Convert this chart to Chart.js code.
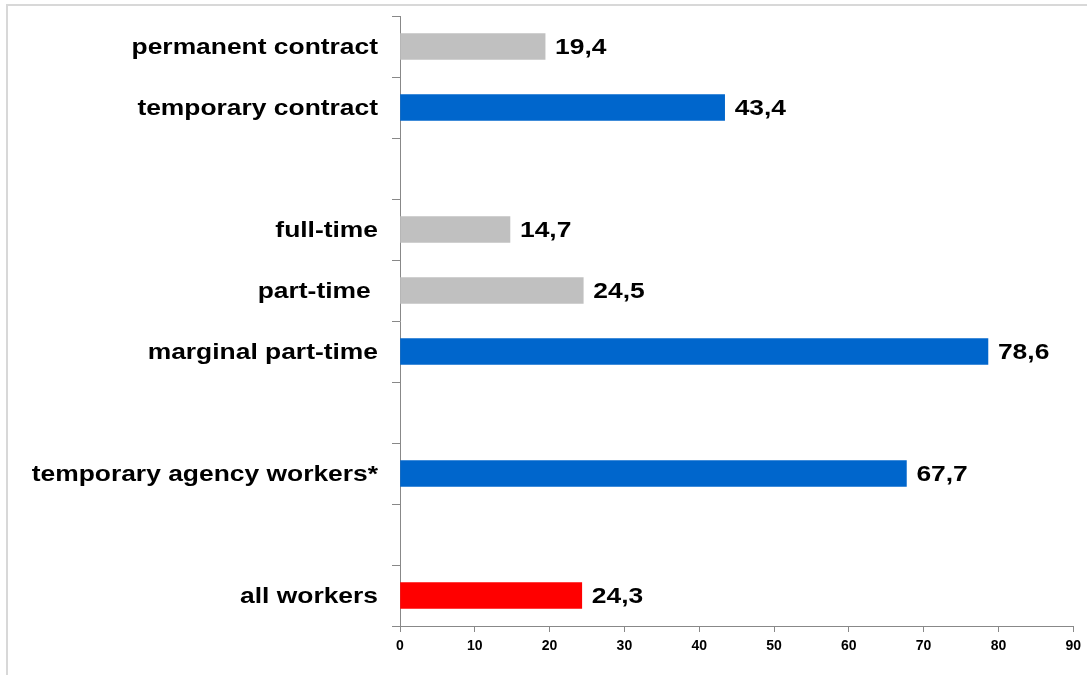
<!DOCTYPE html>
<html>
<head>
<meta charset="utf-8">
<script src="https://cdn.jsdelivr.net/npm/chart.js@4.4.1/dist/chart.umd.min.js"></script>
<style>
  html,body{margin:0;padding:0;background:#fff;}
  #wrap{position:relative;width:1087px;height:675px;}
  #frame{position:absolute;left:6px;top:4px;right:0;bottom:0;border-top:2px solid #d8d8d8;border-left:2px solid #d8d8d8;pointer-events:none;}
  canvas{position:absolute;left:0;top:0;}
</style>
</head>
<body>
<div id="wrap">
  <canvas id="c" width="1087" height="675"></canvas>
  <div id="frame"></div>
</div>
<script>
const categories = ["permanent contract", "temporary contract", "", "full-time", "part-time ", "marginal part-time", "", "temporary agency workers*", "", "all workers"];
const values = [19.4, 43.4, null, 14.7, 24.5, 78.6, null, 67.7, null, 24.3];
const barColors = ["#C0C0C0", "#0066CC", "#FFFFFF", "#C0C0C0", "#C0C0C0", "#0066CC", "#FFFFFF", "#0066CC", "#FFFFFF", "#FF0000"];
const xTicks = [0, 10, 20, 30, 40, 50, 60, 70, 80, 90];

const FONT = 'bold 22px "Liberation Sans", Arial, sans-serif';
const STRETCH = 1.2;

function drawStretched(ctx, text, x, y, align) {
  ctx.save();
  ctx.translate(x, y);
  ctx.scale(STRETCH, 1);
  ctx.textAlign = align;
  ctx.fillText(text, 0, 0);
  ctx.restore();
}

const textLabels = {
  id: 'textLabels',
  afterDraw(chart) {
    const ctx = chart.ctx;
    const meta = chart.getDatasetMeta(0);
    const yScale = chart.scales.y;
    ctx.save();
    ctx.font = FONT;
    ctx.fillStyle = '#000';
    ctx.textBaseline = 'middle';
    categories.forEach((lab, i) => {
      if (!lab) return;
      drawStretched(ctx, lab, yScale.right - 22, yScale.getPixelForTick(i) + 1, 'right');
    });
    meta.data.forEach((bar, i) => {
      const v = values[i];
      if (v === null || v === undefined) return;
      drawStretched(ctx, v.toFixed(1).replace('.', ','), bar.x + 10, bar.y + 1, 'left');
    });
    ctx.restore();
  }
};

new Chart(document.getElementById('c'), {
  type: 'bar',
  data: {
    labels: categories,
    datasets: [{
      data: values,
      backgroundColor: barColors,
      borderWidth: 0,
      barThickness: 26
    }]
  },
  options: {
    indexAxis: 'y',
    responsive: false,
    animation: false,
    layout: { padding: { left: 0, top: 16, right: 12, bottom: 0 } },
    plugins: { legend: { display: false }, tooltip: { enabled: false } },
    scales: {
      x: {
        type: 'linear',
        min: 0,
        max: 90,
        afterBuildTicks(scale) { scale.ticks = xTicks.map(v => ({ value: v })); },
        afterFit(scale) { scale.height = 49; },
        grid: { drawOnChartArea: false, drawTicks: true, tickLength: 6, color: '#888', lineWidth: 1 },
        border: { display: true, color: '#888', width: 1 },
        ticks: {
          color: '#000',
          padding: 6,
          maxRotation: 0,
          font: { family: '"Liberation Sans", Arial, sans-serif', size: 14, weight: 'bold' }
        }
      },
      y: {
        afterFit(scale) { scale.width = 400; },
        grid: { offset: true, drawOnChartArea: false, drawTicks: true, tickLength: 8, color: '#888', lineWidth: 1 },
        border: { display: true, color: '#888', width: 1 },
        ticks: {
          color: 'rgba(0,0,0,0)',
          padding: 14,
          autoSkip: false,
          font: { family: '"Liberation Sans", Arial, sans-serif', size: 2, weight: 'bold' }
        }
      }
    }
  },
  plugins: [textLabels]
});
</script>
</body>
</html>
